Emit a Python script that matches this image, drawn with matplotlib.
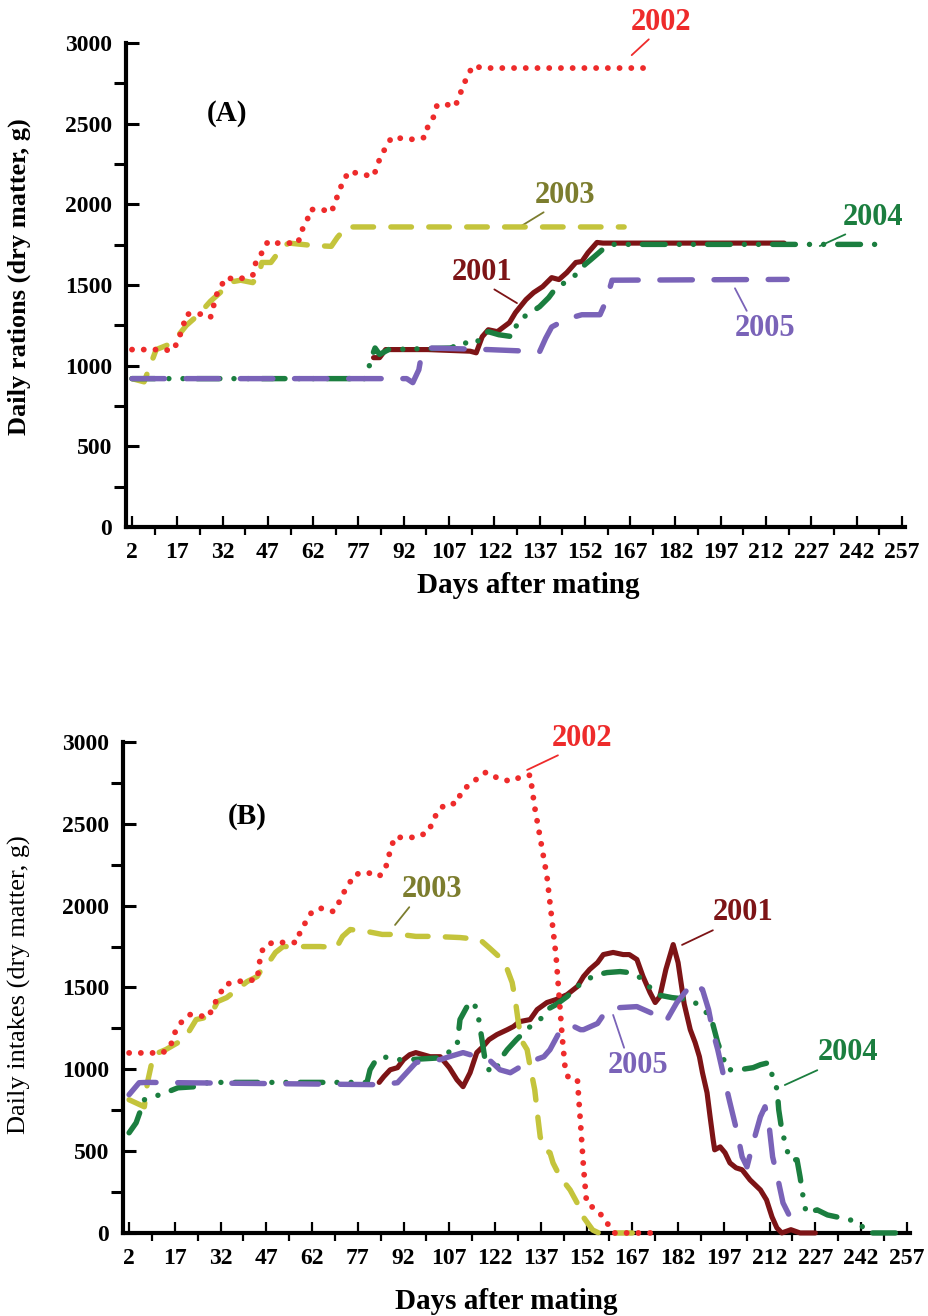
import matplotlib.pyplot as plt
from matplotlib.ticker import MultipleLocator, FixedLocator

plt.rcParams['font.family'] = ['Liberation Serif', 'DejaVu Serif']

# ---------------- data, panel A (daily rations) ----------------
a01_day = [82, 84, 86, 100, 114, 116, 118, 120, 123, 127, 129, 132.5, 135, 138, 141, 143.4, 146, 149, 151,
           153, 156, 158, 218]
a01_val = [1050, 1050, 1100, 1100, 1090, 1080, 1180, 1223, 1211, 1267, 1329, 1410, 1453, 1490, 1546, 1534,
           1577, 1640, 1646, 1700, 1764, 1760, 1760]

a02_day = [2, 13, 15, 17, 19, 20, 26, 28, 30, 33, 37, 42, 43, 45, 47, 50, 57, 58, 60, 61, 65, 68, 70, 72,
           74, 78, 82, 84, 86, 88, 95, 99, 100, 102, 103, 106, 109, 111, 113, 115, 118, 173]
a02_val = [1100, 1100, 1090, 1140, 1250, 1320, 1320, 1300, 1440, 1545, 1535, 1560, 1640, 1700, 1770, 1760,
           1760, 1830, 1900, 1968, 1968, 1950, 2050, 2149, 2205, 2186, 2174, 2280, 2353, 2415, 2403, 2415,
           2484, 2546, 2614, 2620, 2605, 2700, 2794, 2860, 2845, 2845]

a03_day = [2, 6, 8, 10, 14, 17, 20, 24, 28, 31, 35, 38, 42, 44, 45, 48, 50, 52, 54, 62, 68, 70, 73, 165]
a03_val = [920, 900, 1000, 1100, 1130, 1180, 1250, 1316, 1400, 1450, 1520, 1530, 1515, 1560, 1640, 1640,
           1690, 1740, 1760, 1745, 1740, 1795, 1860, 1860]

a04_day = [2, 79, 80, 81.5, 82.5, 84, 87, 108, 110, 116, 118, 120, 123.5, 128, 130, 133, 137, 140, 142,
           146.7, 150, 152, 154, 156.6, 159, 161, 249]
a04_val = [920, 920, 960, 1060, 1110, 1070, 1100, 1110, 1145, 1135, 1200, 1211, 1192, 1180, 1285, 1316,
           1366, 1422, 1472, 1534, 1577, 1627, 1658, 1700, 1739, 1752, 1752]

a05_day = [2, 93, 95, 97, 98, 100, 120, 137, 139, 141, 146, 151, 157, 159, 161, 219]
a05_val = [920, 920, 895, 975, 1080, 1110, 1100, 1087, 1170, 1240, 1290, 1316, 1316, 1400, 1530, 1535]

# ---------------- data, panel B (daily intakes) ----------------
b01_day = [84, 85.5, 87.6, 90, 92, 94, 96, 100.7, 104, 107, 109.5, 111.5, 113.8, 116, 118, 120, 122.6, 126,
           128, 130, 133.5, 135.8, 139, 142, 145.6, 149, 151, 153, 155.6, 157.5, 160.7, 164, 166, 168.5,
           170.5, 172.8, 174.5, 176, 178, 180.4, 182, 184, 186, 187.6, 189, 190, 191.5, 192.5, 193.5, 194,
           195.8, 197.4, 199, 201, 203, 205.6, 209, 211, 212.8, 214.4, 216, 219, 222, 227]
b01_val = [920, 955, 997, 1010, 1059, 1089, 1102, 1077, 1077, 1010, 936, 894, 979, 1102, 1138, 1181, 1212,
           1242, 1261, 1291, 1304, 1365, 1408, 1426, 1456, 1506, 1567, 1610, 1652, 1701, 1714, 1701, 1701,
           1671, 1567, 1469, 1408, 1444, 1610, 1762, 1652, 1400, 1242, 1163, 1077, 979, 857, 710, 569, 508,
           526, 490, 428, 398, 386, 324, 263, 202, 98, 31, 0, 20, 0, 0]

b02_day = [2, 13, 15.5, 17, 19, 22, 28, 30, 33.5, 37.4, 44, 45, 46, 49, 57, 58, 60, 62, 65, 69, 70.5, 72,
           74, 76, 80, 84, 86, 87, 88, 89, 96, 100, 101.5, 103, 105.6, 109.5, 111, 115, 119, 123, 127, 131,
           133.5, 135, 136.7, 139, 142, 144, 145, 146, 149, 150, 151, 152, 156, 158, 161, 175]
b02_val = [1100, 1100, 1138, 1224, 1285, 1334, 1320, 1400, 1518, 1536, 1548, 1683, 1744, 1775, 1775, 1836,
           1903, 1964, 1983, 1964, 2007, 2068, 2130, 2191, 2203, 2179, 2222, 2295, 2356, 2417, 2417, 2448,
           2509, 2570, 2619, 2625, 2700, 2760, 2815, 2778, 2760, 2790, 2797, 2600, 2423, 2180, 1690, 1200,
           1000, 950, 935, 673, 400, 184, 129, 80, 0, 0]

b03_day = [2, 7, 8, 10, 14, 18, 21, 24, 28.5, 31, 34, 37.4, 40.7, 44, 46, 48, 50, 52.5, 58, 64.6, 70, 72,
           74.5, 80, 85, 91, 96, 101.6, 110.5, 117, 120, 123.6, 126, 127.6, 128.6, 129.5, 130.5, 132.5,
           133.5, 135, 136, 136.8, 138.4, 140, 141, 143.3, 146.6, 148.9, 150.9, 154, 156, 167]
b03_val = [814, 771, 918, 1089, 1120, 1163, 1212, 1304, 1322, 1414, 1438, 1487, 1536, 1567, 1628, 1659,
           1714, 1750, 1750, 1750, 1744, 1812, 1854, 1842, 1824, 1824, 1812, 1812, 1805, 1793, 1744, 1683,
           1610, 1530, 1426, 1304, 1181, 1120, 1016, 875, 710, 587, 508, 490, 428, 343, 263, 184, 98, 18,
           0, 0]

b04_day = [2, 4.3, 7, 10, 14, 18, 24, 28, 80, 81, 83, 85.3, 89.8, 94, 104, 109.5, 110.5, 112.8, 115, 116.5,
           117.7, 118.7, 120, 122, 123.6, 126, 129, 133.5, 136.8, 139, 142, 145.6, 149, 152, 155.6, 158.7,
           163, 166, 169.5, 172.8, 175, 180, 186, 190, 193, 195, 197, 198, 202, 206.6, 209, 211.6, 213,
           214.5, 215, 216, 217.7, 218.7, 221, 222, 223, 224, 227.6, 231, 234, 238.4, 241.7, 243.6, 255]
b04_val = [612, 673, 814, 832, 857, 887, 894, 920, 920, 997, 1059, 1077, 1059, 1059, 1070, 1138, 1304, 1383,
           1414, 1322, 1181, 1059, 997, 979, 1059, 1120, 1181, 1261, 1304, 1365, 1395, 1444, 1506, 1548,
           1579, 1591, 1597, 1591, 1561, 1500, 1456, 1438, 1426, 1377, 1304, 1163, 1059, 997, 997, 1010,
           1028, 1040, 955, 875, 753, 630, 508, 447, 447, 343, 220, 122, 141, 110, 98, 80, 61, 0, 0]

b05_day = [2, 5.3, 8, 84, 90, 93, 96, 99.7, 104, 107, 111.5, 116, 120, 123.6, 127, 132.5, 138, 140, 143,
           146.6, 150, 151, 155.6, 158.7, 163, 168.5, 173, 178, 181.6, 185, 187, 190, 192, 193.5, 195, 197,
           199, 201.4, 203, 204.6, 206.6, 209, 210.5, 212, 213, 215, 216.4, 218.7, 219.7, 221]
b05_val = [845, 918, 920, 906, 918, 979, 1040, 1059, 1059, 1077, 1102, 1077, 1059, 997, 979, 1040, 1077,
           1120, 1224, 1273, 1242, 1242, 1280, 1365, 1377, 1383, 1346, 1291, 1408, 1487, 1530, 1487, 1365,
           1224, 1120, 955, 796, 612, 465, 404, 551, 710, 771, 630, 465, 306, 184, 98, 37, 0]

x_ticks = list(range(2, 258, 15))
years = ['2001', '2002', '2003', '2004', '2005']

# ---------------- styles ----------------
col = {'2001': '#7d1416', '2002': '#ee2b2b', '2003': '#c4c43c', '2004': '#1b7e3f', '2005': '#7a63b8'}
txtcol = {'2001': '#7d1416', '2002': '#ee2b2b', '2003': '#7c7d2e', '2004': '#1b7e3f', '2005': '#7a63b8'}
sty = {
    '2001': dict(ls='-', lw=3.7),
    '2002': dict(ls=(0, (0.01, 2.0)), lw=4.2),
    '2003': dict(ls=(0, (3.8, 3.2)), lw=3.9),
    '2004': dict(ls=(0, (4.2, 2.6, 0.01, 2.6, 0.01, 2.6)), lw=3.9),
    '2005': dict(ls=(0, (6.0, 4.0)), lw=3.9),
}
zorder = {'2001': 3, '2002': 6, '2003': 4, '2004': 5, '2005': 7}

fig = plt.figure(figsize=(9.29, 13.16), dpi=100)
axA = fig.add_axes([0.1356, 0.5995, 0.8385, 0.3678])
axB = fig.add_axes([0.1324, 0.0631, 0.8470, 0.3731])

seriesA = {'2001': (a01_day, a01_val), '2002': (a02_day, a02_val), '2003': (a03_day, a03_val),
           '2004': (a04_day, a04_val), '2005': (a05_day, a05_val)}
seriesB = {'2001': (b01_day, b01_val), '2002': (b02_day, b02_val), '2003': (b03_day, b03_val),
           '2004': (b04_day, b04_val), '2005': (b05_day, b05_val)}


def style_axes(ax):
    ax.set_xlim(0, 258)
    ax.set_ylim(0, 3000)
    for s in ['top', 'right']:
        ax.spines[s].set_visible(False)
    for s in ['left', 'bottom']:
        ax.spines[s].set_linewidth(3)
    ax.xaxis.set_major_locator(FixedLocator(x_ticks))
    ax.xaxis.set_minor_locator(FixedLocator([t + 7.5 for t in x_ticks[:-1]]))
    ax.yaxis.set_major_locator(MultipleLocator(500))
    ax.yaxis.set_minor_locator(MultipleLocator(250))
    ax.tick_params(axis='x', which='major', direction='in', length=8, width=1.6, pad=11, labelsize=17)
    ax.tick_params(axis='x', which='minor', direction='out', length=6, width=1.6)
    ax.tick_params(axis='y', which='major', direction='in', length=9, width=2.2, pad=10, labelsize=17)
    ax.tick_params(axis='y', which='minor', direction='out', length=9, width=2.2)
    for lab in ax.get_xticklabels() + ax.get_yticklabels():
        lab.set_fontweight('bold')


for ax, series in [(axA, seriesA), (axB, seriesB)]:
    for y in years:
        d, v = series[y]
        ax.plot(d, v, color=col[y], linestyle=sty[y]['ls'], lw=sty[y]['lw'],
                dash_capstyle='round', solid_capstyle='round', solid_joinstyle='round',
                zorder=zorder[y], clip_on=False)
    style_axes(ax)


def label(ax, year, txt_xy, pt_xy, rel):
    ax.annotate(year, xy=pt_xy, xytext=txt_xy, ha='center', va='center', fontsize=22,
                fontweight='bold', color=txtcol[year], annotation_clip=False,
                arrowprops=dict(arrowstyle='-', color=txtcol[year], lw=1.3, shrinkA=0, shrinkB=0,
                                relpos=rel))


# panel A labels
label(axA, '2002', (177.2, 3130), (167.5, 2925), (0.4, 0.1))
label(axA, '2003', (145.4, 2058), (129.8, 1853), (0.3, 0.1))
label(axA, '2004', (247.4, 1921), (229.8, 1742), (0.25, 0.1))
label(axA, '2001', (117.9, 1580), (129.5, 1388), (0.55, 0.1))
label(axA, '2005', (211.6, 1233), (201.7, 1480), (0.25, 0.9))
axA.text(33.4, 2566, '(A)', fontsize=21, fontweight='bold', ha='center', va='center')
axA.set_xlabel('Days after mating', fontsize=21, fontweight='bold')
axA.xaxis.set_label_coords(0.517, -0.12)
axA.xaxis.label.set_va('center')
axA.set_ylabel('Daily rations (dry matter, g)', fontsize=19, fontweight='bold')
axA.yaxis.set_label_coords(-0.137, 0.517)
axA.yaxis.label.set_va('center')

# panel B labels
label(axB, '2002', (150.5, 3024), (132.5, 2829), (0.3, 0.1))
label(axB, '2001', (203.3, 1955), (183.3, 1760), (0.2, 0.1))
label(axB, '2003', (101.3, 2096), (89.2, 1882), (0.2, 0.1))
label(axB, '2005', (168.9, 1026), (160.7, 1332), (0.3, 0.9))
label(axB, '2004', (237.7, 1100), (217.0, 904), (0.2, 0.1))
axB.text(40.7, 2542, '(B)', fontsize=21, fontweight='bold', ha='center', va='center')
axB.set_xlabel('Days after mating', fontsize=21, fontweight='bold')
axB.xaxis.set_label_coords(0.487, -0.14)
axB.xaxis.label.set_va('center')
axB.set_ylabel('Daily intakes (dry matter, g)', fontsize=19)
axB.yaxis.set_label_coords(-0.132, 0.505)
axB.yaxis.label.set_va('center')

fig.savefig('out.png', dpi=100)
